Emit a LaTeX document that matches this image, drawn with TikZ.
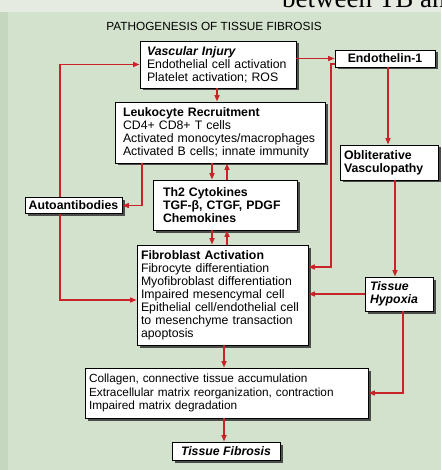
\documentclass[tikz,border=0pt]{standalone}
\usepackage{fontspec}
\setmainfont{Liberation Sans}
\newfontfamily\pageserif{Liberation Serif}
\usetikzlibrary{shadows,arrows.meta}
\definecolor{bg}{RGB}{211,226,205}
\definecolor{bgtop}{RGB}{230,235,226}
\definecolor{bgleft}{RGB}{198,215,192}
\definecolor{arred}{RGB}{200,35,40}
\begin{document}
\begin{tikzpicture}[x=1pt,y=-1pt,
  box/.style={draw=black, line width=0.9pt, fill=white,
    drop shadow={shadow xshift=2.5pt,shadow yshift=-2.5pt,fill=black!80,opacity=0.85},
    align=left, inner ysep=1pt, font=\fontsize{12.3}{13}\selectfont},
  cbox/.style={box, align=center, inner sep=1pt},
  arr/.style={draw=arred, line width=1.5pt, -{Triangle[length=6.5pt,width=5pt]}}]
\fill[bg] (0,0) rectangle (441,470);
\fill[bgtop] (0,0) rectangle (441,12);
\fill[bgleft] (0,12) rectangle (8,470);
\useasboundingbox (0,0) rectangle (441,470);
\begin{scope}
\clip (0,0) rectangle (441,470);
\node[font=\pageserif\fontsize{27}{27}\selectfont, anchor=base west, inner sep=0pt] (pg) at (282,8) {between TB and};
\end{scope}
\node[font=\fontsize{11.8}{13}\selectfont] (title) at (214,26) {PATHOGENESIS OF TISSUE FIBROSIS};

\node[box, text width=142pt, inner xsep=7pt, minimum height=47pt] (VI) at (218,64.5)
  {\textbf{\textit{Vascular Injury}}\\Endothelial cell activation\\Platelet activation; ROS};
\node[cbox, minimum width=100pt, minimum height=17pt] (E1) at (385,58.5) {\textbf{Endothelin-1}};
\node[box, text width=194pt, inner xsep=8pt, minimum height=61pt] (LR) at (220,132.5)
  {\textbf{Leukocyte Recruitment}\\CD4+ CD8+ T cells\\Activated monocytes/macrophages\\Activated B cells; innate immunity};
\node[box, text width=90pt, inner xsep=4pt, minimum height=35pt] (OV) at (389,162.5)
  {\textbf{Obliterative}\\\textbf{Vasculopathy}};
\node[box, text width=124pt, inner xsep=10pt, minimum height=50pt] (Th2) at (225,205)
  {\textbf{Th2 Cytokines}\\\textbf{TGF-β, CTGF, PDGF}\\\textbf{Chemokines}};
\node[cbox, minimum width=97pt, minimum height=16pt] (AA) at (73.5,205.5) {\textbf{Autoantibodies}};
\node[box, text width=163pt, inner xsep=4pt, minimum height=100pt] (FA) at (222.5,295)
  {\textbf{Fibroblast Activation}\\Fibrocyte differentiation\\Myofibroblast differentiation\\Impaired mesencymal cell\\Epithelial cell/endothelial cell\\to mesenchyme transaction\\apoptosis};
\node[box, text width=58pt, inner xsep=5pt, minimum height=34pt] (TH) at (399,294)
  {\textbf{\textit{Tissue}}\\\textbf{\textit{Hypoxia}}};
\node[box, text width=275pt, inner xsep=4pt, minimum height=50pt, font=\fontsize{11.8}{13.5}\selectfont] (CO) at (226.5,393)
  {Collagen, connective tissue accumulation\\Extracellular matrix reorganization, contraction\\Impaired matrix degradation};
\node[cbox, minimum width=108pt, minimum height=18pt] (TF) at (226,451) {\textbf{\textit{Tissue Fibrosis}}};

\draw[arr] (VI.east |- E1.west) -- (E1.west);
\draw[arr] (E1.south -| 388,0) -- (OV.north -| 388,0);
\draw[arr] (OV.south -| 395,0) -- (TH.north -| 395,0);
\draw[arr] (TH.west) -- (TH.west -| FA.east);
\draw[arr] (TH.south -| 403,0) |- (CO.east);
\draw[arr] (E1.west |- 0,64) -- (331,64) -- (331,267) -- (FA.east |- 0,267);
\draw[arr] (VI.south -| 217,0) -- (LR.north -| 217,0);
\draw[arr] (LR.south -| 212,0) -- (Th2.north -| 212,0);
\draw[arr] (Th2.north -| 227,0) -- (LR.south -| 227,0);
\draw[arr] (Th2.south -| 212,0) -- (FA.north -| 212,0);
\draw[arr] (FA.north -| 227,0) -- (Th2.south -| 227,0);
\draw[arr] (LR.south -| 142,0) |- (AA.east);
\draw[arr] (AA.north -| 60,0) |- (VI.west);
\draw[arr] (AA.south -| 60,0) |- (FA.west |- 0,300);
\draw[arr] (FA.south -| 224,0) -- (CO.north -| 224,0);
\draw[arr] (CO.south -| 224,0) -- (TF.north -| 224,0);
\end{tikzpicture}
\end{document}
